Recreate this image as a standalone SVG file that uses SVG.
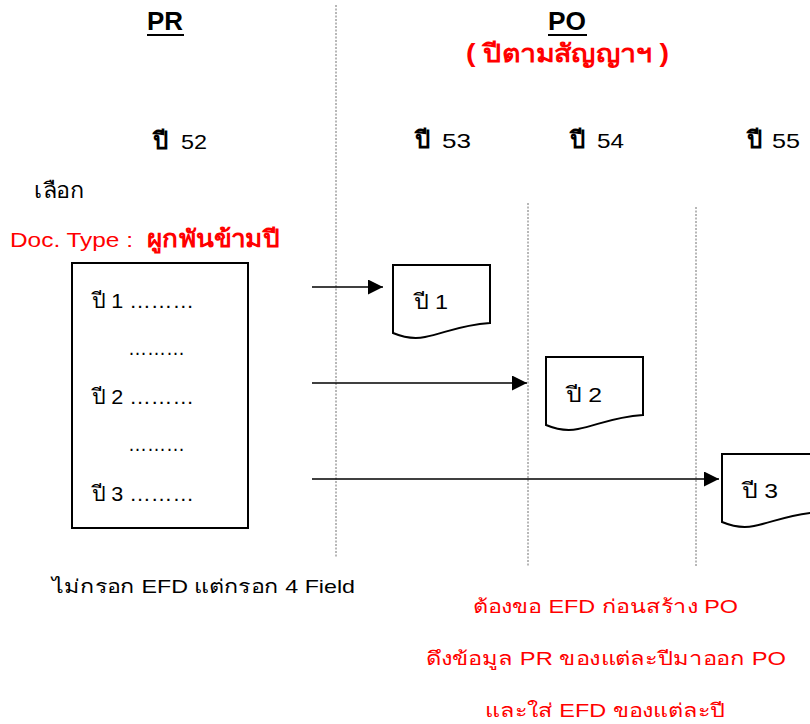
<svg xmlns="http://www.w3.org/2000/svg" width="810" height="724" viewBox="0 0 810 724">
<defs>
<style>
text{font-family:"Liberation Sans","Noto Sans",sans-serif;fill:#000}
.red{fill:#ff0000}
.b{font-weight:bold}
.dash{stroke:#707070;stroke-width:1;stroke-dasharray:2 1.5;fill:none}
.shape{fill:#fff;stroke:#000;stroke-width:2}
.conn{stroke:#000;stroke-width:1.6;fill:none;marker-end:url(#arr)}
</style>
<marker id="arr" markerUnits="userSpaceOnUse" markerWidth="16" markerHeight="16" refX="15" refY="7.5" orient="auto">
<path d="M0,0 L15,7.5 L0,15 Z" fill="#000"/>
</marker>
<path id="docshape" d="M0,0 H97 V58 C67,60 52,68 32,72 C22,74 12,73 0,68 Z"/>
</defs>
<rect width="810" height="724" fill="#fff"/>

<g id="dividers">
<line class="dash" x1="336" y1="5" x2="336" y2="557"/>
<line class="dash" x1="528" y1="203" x2="528" y2="567"/>
<line class="dash" x1="696" y1="207" x2="696" y2="567"/>
</g>

<g id="headers">
<text class="b" x="147" y="30" font-size="25" textLength="36" lengthAdjust="spacingAndGlyphs">PR</text>
<line x1="147" y1="35" x2="184" y2="35" stroke="#000" stroke-width="2.2"/>
<text class="b" x="548" y="30" font-size="25" textLength="38" lengthAdjust="spacingAndGlyphs">PO</text>
<line x1="548" y1="35" x2="587" y2="35" stroke="#000" stroke-width="2.2"/>
<text class="b red" x="466" y="62" font-size="25" textLength="203" lengthAdjust="spacingAndGlyphs">( ปีตามสัญญาฯ )</text>
</g>

<g id="years">
<text class="b" x="153" y="149" font-size="24" textLength="15" lengthAdjust="spacingAndGlyphs">ปี</text>
<text x="181" y="149" font-size="21" textLength="26" lengthAdjust="spacingAndGlyphs">52</text>
<text class="b" x="415" y="148" font-size="24" textLength="15" lengthAdjust="spacingAndGlyphs">ปี</text>
<text x="442" y="148" font-size="21" textLength="29" lengthAdjust="spacingAndGlyphs">53</text>
<text class="b" x="570" y="148" font-size="24" textLength="15" lengthAdjust="spacingAndGlyphs">ปี</text>
<text x="597" y="148" font-size="21" textLength="27" lengthAdjust="spacingAndGlyphs">54</text>
<text class="b" x="747" y="148" font-size="24" textLength="15" lengthAdjust="spacingAndGlyphs">ปี</text>
<text x="772" y="148" font-size="21" textLength="28" lengthAdjust="spacingAndGlyphs">55</text>
</g>

<g id="select-label">
<text x="34" y="198" font-size="22" textLength="50" lengthAdjust="spacingAndGlyphs">เลือก</text>
<text class="red" x="10" y="247" font-size="21" textLength="123" lengthAdjust="spacingAndGlyphs">Doc. Type :</text>
<text class="red b" x="147" y="247" font-size="24" textLength="132" lengthAdjust="spacingAndGlyphs">ผูกพันข้ามปี</text>
</g>

<g id="pr-box">
<rect class="shape" x="72" y="263" width="176" height="265"/>
<text x="92" y="308" font-size="21" textLength="102" lengthAdjust="spacingAndGlyphs">ปี 1 ………</text>
<text x="128" y="355" font-size="21" textLength="57" lengthAdjust="spacingAndGlyphs">………</text>
<text x="92" y="404" font-size="21" textLength="102" lengthAdjust="spacingAndGlyphs">ปี 2 ………</text>
<text x="128" y="451" font-size="21" textLength="57" lengthAdjust="spacingAndGlyphs">………</text>
<text x="92" y="501" font-size="21" textLength="102" lengthAdjust="spacingAndGlyphs">ปี 3 ………</text>
</g>

<g id="connectors">
<line class="conn" x1="312" y1="287" x2="383" y2="287"/>
<line class="conn" x1="312" y1="383" x2="527" y2="383"/>
<line class="conn" x1="312" y1="479" x2="719" y2="479"/>
</g>

<g id="po-1">
<use href="#docshape" class="shape" transform="translate(393,265)"/>
<text x="414" y="309" font-size="21" textLength="34" lengthAdjust="spacingAndGlyphs">ปี 1</text>
</g>
<g id="po-2">
<use href="#docshape" class="shape" transform="translate(546,357)"/>
<text x="566" y="402" font-size="21" textLength="36" lengthAdjust="spacingAndGlyphs">ปี 2</text>
</g>
<g id="po-3">
<use href="#docshape" class="shape" transform="translate(722,454)"/>
<text x="742" y="498" font-size="21" textLength="36" lengthAdjust="spacingAndGlyphs">ปี 3</text>
</g>

<g id="notes">
<text x="52" y="593" font-size="19" textLength="303" lengthAdjust="spacingAndGlyphs">ไม่กรอก EFD แต่กรอก 4 Field</text>
<text class="red" x="473" y="613" font-size="19" textLength="265" lengthAdjust="spacingAndGlyphs">ต้องขอ EFD ก่อนสร้าง PO</text>
<text class="red" x="426" y="665" font-size="19" textLength="360" lengthAdjust="spacingAndGlyphs">ดึงข้อมูล PR ของแต่ละปีมาออก PO</text>
<text class="red" x="485" y="717" font-size="19" textLength="240" lengthAdjust="spacingAndGlyphs">และใส่ EFD ของแต่ละปี</text>
</g>
</svg>
